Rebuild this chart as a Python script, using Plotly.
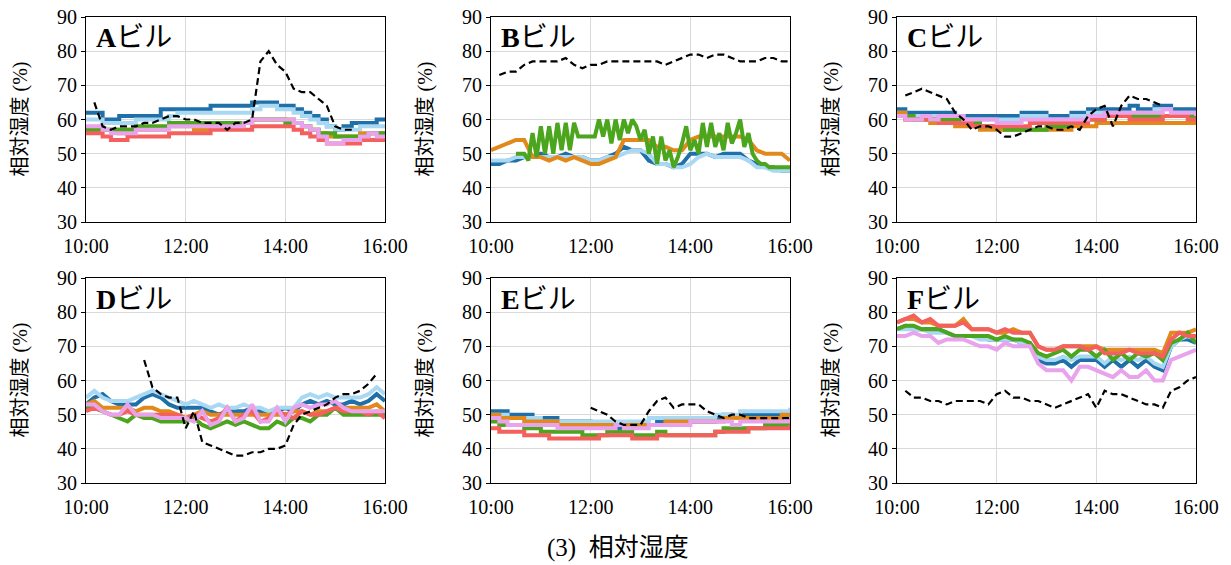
import plotly.graph_objects as go
import pandas as pd

# ---- time grids ----
T10 = [t.strftime("%Y-%m-%d %H:%M") for t in pd.date_range("2020-01-01 10:00", "2020-01-01 16:00", freq="10min")]
T5 = [t.strftime("%Y-%m-%d %H:%M") for t in pd.date_range("2020-01-01 10:00", "2020-01-01 16:00", freq="5min")]
N = None

series_names = ["dark_blue", "light_blue", "orange", "green", "red", "pink", "black"]
colors = {"dark_blue": "#1f6fa9", "light_blue": "#a9d8f3", "orange": "#e2891c", "green": "#4ba51d",
          "red": "#f4605d", "pink": "#e9a3ec", "black": "#000000"}
panel_labels = ["A", "B", "C", "D", "E", "F"]
y_ticks = [30, 40, 50, 60, 70, 80, 90]
x_tick_labels = ["10:00", "12:00", "14:00", "16:00"]
y_title = "相対湿度 (%)"
caption = "(3)  相対湿度"

# ---- Panel A ----
A_dark_blue = [62,62,60,60,61,61,61,61,61,63,63,63,63,63,63,64,64,64,64,64,65,65,65,64,64,63,62,61,60,58,57,58,59,59,59,60,60]
A_light_blue = [60,60,59,59,59,59,60,60,60,60,61,62,62,62,62,62,62,62,62,62,63,64,64,63,63,62,61,60,59,58,57,57,57,58,58,58,58]
A_orange = [57,57,57,57,56,57,57,57,57,57,58,58,58,57,57,58,58,58,58,59,60,60,60,60,60,59,58,57,56,55,55,55,55,56,56,56,56]
A_green = [57,57,57,57,57,57,58,58,58,58,59,59,59,59,59,59,59,59,59,59,60,60,60,60,59,59,58,57,56,56,55,55,55,55,56,56,56]
A_red = [56,56,55,54,54,55,55,55,55,55,56,56,56,56,56,57,57,57,57,57,58,58,58,58,58,57,56,55,54,53,53,53,53,54,54,54,54]
A_pink = [58,58,57,56,56,56,57,57,57,57,58,58,58,58,58,58,58,58,58,59,60,60,60,60,60,59,58,57,55,53,53,54,54,55,56,55,55]
A_black = [N,65,58,57,58,58,58,59,59,60,61,61,60,60,59,59,59,57,59,59,60,77,80,76,74,69,68,68,66,64,58,57,57,N,N,N,N]

# ---- Panel B ----
B_dark_blue = [47,47,48,48,49,49,50,49,49,50,49,49,48,48,49,50,52,51,51,48,47,47,46,47,50,50,50,49,50,50,50,48,47,46,46,45,45]
B_light_blue = [48,48,48,49,49,49,49,49,49,49,49,49,48,48,49,49,50,51,51,50,47,47,46,46,47,49,50,49,49,49,49,48,46,46,45,45,45]
B_orange = [51,52,53,54,54,49,49,48,49,48,49,48,47,47,48,49,54,54,54,54,52,52,51,51,54,55,55,55,55,55,55,54,51,50,50,50,48]
B_green_5min = [N,N,N,N,N,N,50,50,50,48,56,49,58,50,58,50,59,51,59,51,59,55,55,55,55,55,60,55,60,53,60,54,60,56,60,58,
                54,57,50,55,47,55,48,51,46,49,53,58,51,54,50,59,52,59,52,56,51,59,53,56,60,52,56,50,48,47,47,46,46,46,46,46,46]
B_black = [N,73,74,74,76,77,77,77,77,78,76,75,76,76,77,77,77,77,77,77,77,76,77,78,79,79,78,79,79,78,77,77,77,78,78,77,77]

# ---- Panel C ----
C_dark_blue = [63,62,62,62,62,62,62,61,61,61,61,61,61,61,61,62,62,62,61,61,61,62,62,63,63,63,63,63,64,63,63,64,64,63,63,63,63]
C_light_blue = [62,61,61,61,61,61,61,61,60,60,60,60,60,60,60,61,61,61,60,60,60,61,61,62,62,62,62,62,62,62,62,63,63,62,62,62,62]
C_orange = [62,60,60,60,59,59,59,58,58,58,57,57,57,57,57,57,57,57,57,57,57,58,58,58,59,59,59,59,59,59,59,59,59,59,59,59,59]
C_green = [61,61,60,60,60,60,60,60,59,59,58,58,58,57,57,57,57,57,58,58,58,59,59,60,60,61,61,61,61,61,61,61,61,61,61,61,60]
C_red = [61,60,60,60,60,59,59,59,59,58,58,58,58,58,58,58,59,59,59,59,59,59,59,60,60,61,61,61,60,60,60,60,61,61,61,60,60]
C_pink = [61,60,60,61,60,61,61,61,60,60,60,60,59,59,59,60,60,60,60,60,60,60,60,61,61,62,62,62,62,62,62,62,63,62,62,62,61]
C_black = [N,67,68,69,68,67,66,62,60,57,58,58,57,55,55,56,57,58,58,57,57,58,57,61,63,64,58,64,67,66,66,65,64,N,N,N,N]

# ---- Panel D ----
D_dark_blue = [53,55,56,54,53,53,53,55,56,55,53,52,52,52,52,51,50,51,51,51,52,51,50,51,52,51,53,54,53,54,53,53,54,53,54,56,54]
D_light_blue = [55,57,55,54,54,54,55,56,57,56,55,54,53,54,53,52,53,52,52,53,52,52,51,52,52,52,55,56,55,56,55,55,55,55,56,58,56]
D_orange = [53,54,52,52,52,52,51,52,52,51,51,50,49,50,51,50,50,50,50,50,50,50,50,50,50,51,51,50,51,51,52,52,52,52,52,53,51]
D_green = [52,52,51,50,49,48,50,49,49,48,48,48,48,49,47,46,47,48,47,48,47,46,46,48,47,49,49,48,50,50,52,50,50,50,50,50,50]
D_red = [51,52,51,50,50,51,50,50,50,50,50,50,49,50,49,48,49,52,48,50,51,48,49,51,50,49,51,50,50,51,52,51,51,51,50,51,49]
D_pink = [53,53,51,50,50,53,50,50,50,49,49,49,49,48,51,47,48,52,48,49,53,48,48,52,48,52,53,52,53,53,54,52,51,51,51,51,51]
D_black = [N,N,N,N,N,N,N,66,58,56,55,55,46,51,42,41,40,39,38,38,39,39,40,40,41,47,50,51,52,53,55,56,56,57,59,62,N]

# ---- Panel E ----
E_dark_blue = [51,51,50,50,50,49,49,49,48,48,48,48,47,47,47,46,47,47,47,47,48,48,47,48,48,48,48,49,50,49,50,50,50,50,50,50,51]
E_light_blue = [50,50,49,49,49,49,48,48,48,48,48,48,48,48,48,48,48,48,48,49,49,49,49,49,49,49,49,50,50,50,51,51,51,51,51,51,52]
E_orange = [50,49,49,49,48,48,48,48,47,47,47,47,47,47,47,47,47,47,47,47,47,48,48,48,48,48,48,48,49,49,49,49,49,49,49,50,50]
E_green = [48,47,47,47,46,46,45,45,45,45,45,44,44,44,45,45,45,44,44,44,45,44,44,44,44,44,44,45,46,46,46,46,46,47,47,47,48]
E_red = [46,45,45,45,44,44,44,43,43,43,43,43,43,44,44,44,44,43,43,43,44,44,44,44,44,44,44,45,45,45,45,46,46,46,46,46,47]
E_pink = [49,48,47,47,47,47,47,47,46,46,46,46,46,46,46,47,46,46,46,47,47,47,47,47,48,48,48,48,48,47,48,48,48,48,48,48,49]
E_black = [N,N,N,N,N,N,N,N,N,N,N,N,52,51,50,48,47,47,47,51,54,55,52,53,53,53,51,50,49,50,50,49,49,49,49,49,49]

# ---- Panel F ----
F_dark_blue = [75,76,75,75,75,75,74,73,73,73,73,72,72,72,72,71,71,66,65,65,66,64,66,66,66,64,66,64,66,64,66,64,63,70,72,72,71]
F_light_blue = [75,75,75,75,74,74,74,73,73,73,72,72,72,72,72,71,71,67,66,66,67,66,67,67,67,65,67,66,67,66,67,65,64,70,72,73,72]
F_orange = [77,78,78,77,77,76,76,76,78,75,75,75,74,74,75,74,74,70,69,69,70,70,70,70,70,69,69,69,69,69,69,69,68,74,74,74,75]
F_green = [75,76,76,75,75,75,74,73,73,73,73,73,72,73,72,72,71,68,67,68,69,67,69,69,67,69,66,68,66,68,67,68,66,71,72,74,71]
F_red = [77,78,79,77,78,76,76,76,77,75,75,75,74,75,74,74,74,70,69,69,70,70,70,69,70,68,68,68,69,68,68,68,67,72,74,73,73]
F_pink = [73,73,74,73,73,71,72,72,72,71,70,70,69,71,70,70,70,65,63,63,63,60,64,64,63,62,61,63,61,61,63,60,60,66,67,68,69]
F_black = [N,57,55,55,54,54,53,54,54,54,54,53,56,57,55,55,54,54,53,52,53,54,55,56,52,57,56,56,55,54,53,53,52,57,58,60,61]

panels = [
    {"dark_blue": A_dark_blue, "light_blue": A_light_blue, "orange": A_orange, "green": A_green, "red": A_red, "pink": A_pink, "black": A_black},
    {"dark_blue": B_dark_blue, "light_blue": B_light_blue, "orange": B_orange, "green": B_green_5min, "red": None, "pink": None, "black": B_black},
    {"dark_blue": C_dark_blue, "light_blue": C_light_blue, "orange": C_orange, "green": C_green, "red": C_red, "pink": C_pink, "black": C_black},
    {"dark_blue": D_dark_blue, "light_blue": D_light_blue, "orange": D_orange, "green": D_green, "red": D_red, "pink": D_pink, "black": D_black},
    {"dark_blue": E_dark_blue, "light_blue": E_light_blue, "orange": E_orange, "green": E_green, "red": E_red, "pink": E_pink, "black": E_black},
    {"dark_blue": F_dark_blue, "light_blue": F_light_blue, "orange": F_orange, "green": F_green, "red": F_red, "pink": F_pink, "black": F_black},
]
step_panels = {0, 2, 4}

W, H = 1231, 565
x_px = [(86, 385), (491, 790), (897, 1196)]
y_px = [(17, 222), (278, 483)]

fig = go.Figure()
serif = "Liberation Serif, Noto Sans CJK JP, serif"
jp = "Liberation Serif, Noto Sans CJK JP"

for i, p in enumerate(panels):
    r, c = divmod(i, 3)
    k = "" if i == 0 else str(i + 1)
    xa, ya = "x" + k, "y" + k
    for name in series_names:
        vals = p[name]
        if vals is None:
            continue
        xs = T5 if len(vals) == len(T5) else T10
        if name == "black":
            line = dict(color=colors[name], width=2.2, dash="7px,4px")
            shape = "linear"
        else:
            line = dict(color=colors[name], width=4)
            shape = "hv" if i in step_panels else "linear"
        line["shape"] = shape
        fig.add_trace(go.Scatter(x=xs, y=vals, mode="lines", line=line, xaxis=xa, yaxis=ya,
                                 showlegend=False, connectgaps=False, hoverinfo="skip"))
    x0, x1 = x_px[c]
    y0, y1 = y_px[r]
    fig.layout["xaxis" + k] = dict(
        domain=[x0 / W, x1 / W], anchor=ya, type="date", automargin=False,
        range=["2020-01-01 10:00", "2020-01-01 16:00"],
        tickvals=["2020-01-01 10:00", "2020-01-01 12:00", "2020-01-01 14:00", "2020-01-01 16:00"],
        ticktext=x_tick_labels, showgrid=True, gridcolor="#d9d9d9", gridwidth=1,
        showline=True, linecolor="black", linewidth=1, mirror=True, ticks="", ticklabelstandoff=6,
        tickfont=dict(family=serif, size=20, color="black"), zeroline=False)
    fig.layout["yaxis" + k] = dict(
        domain=[1 - y1 / H, 1 - y0 / H], anchor=xa, range=[30, 90], tickvals=y_ticks, automargin=False,
        showgrid=True, gridcolor="#d9d9d9", gridwidth=1,
        showline=True, linecolor="black", linewidth=1, mirror=True, ticks="outside", ticklen=4,
        tickcolor="black", tickfont=dict(family=serif, size=20, color="black"), zeroline=False)
    # panel label
    fig.add_annotation(x=(x0 + 8) / W, y=1 - (y0 + 21) / H, xref="paper", yref="paper",
                       xanchor="left", yanchor="middle", showarrow=False,
                       text="<b>" + panel_labels[i] + "</b>ビル",
                       font=dict(family=jp, size=28, color="black"))
    # y title
    fig.add_annotation(x=(x0 - 66) / W, y=1 - ((y0 + y1) / 2) / H, xref="paper", yref="paper",
                       xanchor="center", yanchor="middle", showarrow=False, textangle=-90,
                       text=y_title, font=dict(family=jp, size=20, color="black"))

fig.add_annotation(x=618 / W, y=1 - 548 / H, xref="paper", yref="paper", xanchor="center", yanchor="middle",
                   showarrow=False, text=caption, font=dict(family=jp, size=25, color="black"))

fig.update_layout(width=W, height=H, margin=dict(l=0, r=0, t=0, b=0),
                  paper_bgcolor="white", plot_bgcolor="white", showlegend=False)
fig.write_html("out.html")
